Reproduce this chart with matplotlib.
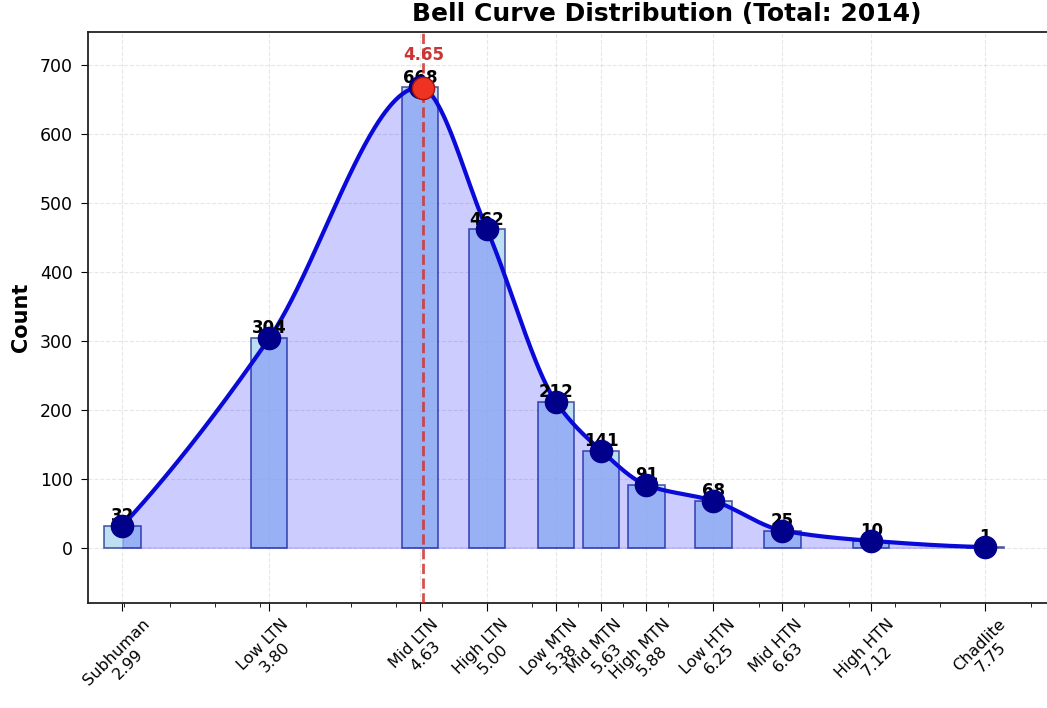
"""Bell curve of tier counts with smoothed outline and mean marker."""
import matplotlib

matplotlib.use("Agg")
import matplotlib.pyplot as plt
import numpy as np
from matplotlib.ticker import MultipleLocator

##########################
## Data

tiers = [
    "Subhuman", "Low LTN", "Mid LTN", "High LTN", "Low MTN", "Mid MTN",
    "High MTN", "Low HTN", "Mid HTN", "High HTN", "Chadlite",
]
scores = [2.99, 3.80, 4.63, 5.00, 5.38, 5.63, 5.88, 6.25, 6.63, 7.12, 7.75]
counts = [32, 304, 668, 462, 212, 141, 91, 68, 25, 10, 1]
mean_score = 4.65


def pchip(x, y, xs):
    """Monotone cubic (PCHIP) interpolation, same slopes rule as scipy."""
    x = np.asarray(x, float)
    y = np.asarray(y, float)
    h = np.diff(x)
    d = np.diff(y) / h
    m = np.zeros_like(y)
    for k in range(1, len(x) - 1):
        if d[k - 1] * d[k] > 0:
            w1 = 2 * h[k] + h[k - 1]
            w2 = h[k] + 2 * h[k - 1]
            m[k] = (w1 + w2) / (w1 / d[k - 1] + w2 / d[k])

    def edge(h0, h1, d0, d1):
        s = ((2 * h0 + h1) * d0 - h0 * d1) / (h0 + h1)
        if np.sign(s) != np.sign(d0):
            return 0.0
        if np.sign(d0) != np.sign(d1) and abs(s) > abs(3 * d0):
            return 3 * d0
        return s

    m[0] = edge(h[0], h[1], d[0], d[1])
    m[-1] = edge(h[-1], h[-2], d[-1], d[-2])
    idx = np.clip(np.searchsorted(x, xs) - 1, 0, len(x) - 2)
    t = (xs - x[idx]) / h[idx]
    h00 = 2 * t**3 - 3 * t**2 + 1
    h10 = t**3 - 2 * t**2 + t
    h01 = -2 * t**3 + 3 * t**2
    h11 = t**3 - t**2
    return (h00 * y[idx] + h10 * h[idx] * m[idx] + h01 * y[idx + 1]
            + h11 * h[idx] * m[idx + 1])


x = np.array(scores)
y = np.array(counts)
xs = np.linspace(x.min(), x.max(), 500)
ys = pchip(x, y, xs)
ymax = y.max()

fig = plt.figure(figsize=(10.47, 7.08), dpi=100)
ax = fig.add_axes([88 / 1047, 105 / 708, 1158 / 1047, 571 / 708])

ax.bar(x, y, width=0.2, color="#a8d4ee", edgecolor="#1a2a8a", alpha=0.75,
       linewidth=1.2, zorder=2)
ax.fill_between(xs, ys, 0, color="blue", alpha=0.2, zorder=3)
ax.plot(xs, ys, color="#0a0ad8", linewidth=3, zorder=4)
ax.plot(x, y, "o", color="#00008b", markersize=16, zorder=6)

for xi, yi in zip(x, y):
    ax.text(xi, yi + 1, str(yi), ha="center", va="bottom", fontsize=12,
            fontweight="bold", color="black", zorder=5)

mean_y = pchip(x, y, np.array([mean_score]))[0]
ax.axvline(mean_score, color="#cc3333", linestyle="--", linewidth=2,
           alpha=0.85, zorder=5)
ax.plot([mean_score], [mean_y], "o", color="#ee3322", markeredgecolor="#aa1111",
        markersize=16, zorder=7)
ax.text(mean_score, ymax * 1.07, f"{mean_score:.2f}", ha="center",
        va="center", fontsize=12, fontweight="bold", color="#cc3333", zorder=5)

ax.set_xlim(2.80, 2.80 + 1158 / 181.3)
ax.set_ylim(-ymax * 0.12, ymax * 1.12)
ax.set_xticks(x)
ax.set_xticklabels([f"{t}\n{s:.2f}" for t, s in zip(tiers, scores)],
                   rotation=45, ha="center", fontsize=11.5)
ax.xaxis.set_minor_locator(MultipleLocator(0.25))
ax.yaxis.set_major_locator(MultipleLocator(100))
ax.tick_params(axis="y", labelsize=12.5, length=5, pad=6)
ax.tick_params(axis="x", which="major", length=6)
ax.tick_params(axis="x", which="minor", length=3)
ax.grid(True, linestyle="--", alpha=0.3, zorder=0)
ax.set_axisbelow(True)
for sp in ax.spines.values():
    sp.set_linewidth(1.3)
    sp.set_color("#222222")

ax.set_ylabel("Count", fontsize=15, fontweight="bold", labelpad=6)
ax.set_title("Bell Curve Distribution (Total: 2014)", fontsize=18,
             fontweight="bold", pad=8)

fig.savefig("out.png", dpi=100)
